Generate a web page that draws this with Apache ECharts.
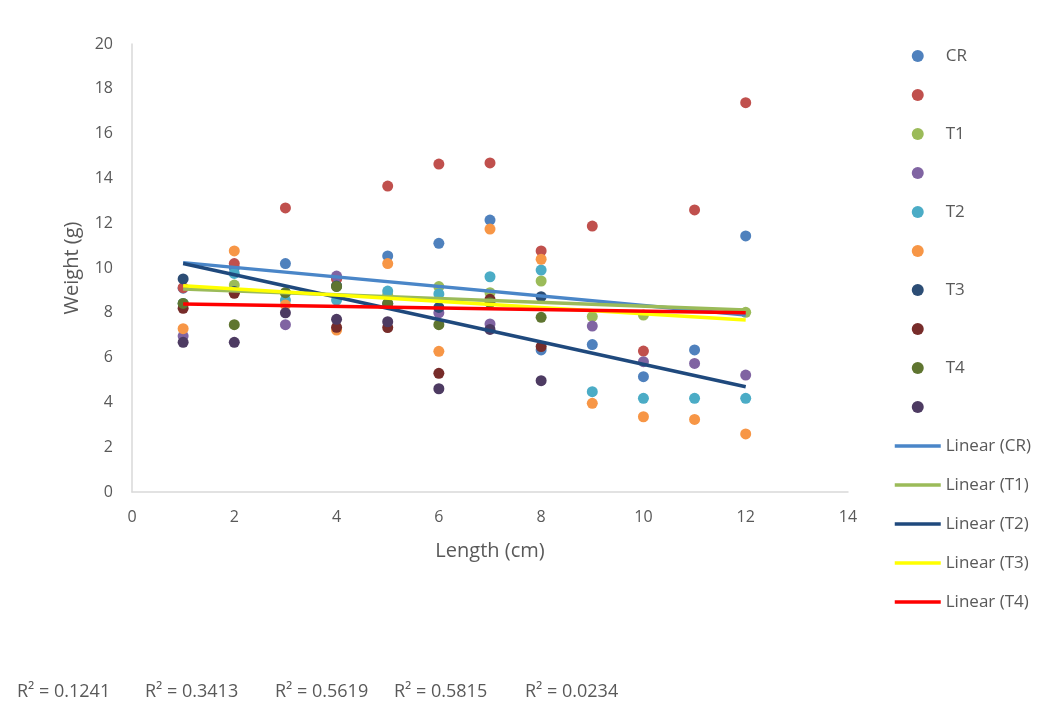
<!DOCTYPE html>
<html>
<head>
<meta charset="utf-8">
<script src="https://cdn.jsdelivr.net/npm/echarts@6/dist/echarts.min.js"></script>
<style>
html,body{margin:0;padding:0;background:#fff;}
#c{width:1044px;height:707px;}
</style>
</head>
<body>
<div id="c"></div>
<script>
const lengths = [1, 2, 3, 4, 5, 6, 7, 8, 9, 10, 11, 12];
const seriesNames = ['CR', 'CR b', 'T1', 'T1 b', 'T2', 'T2 b', 'T3', 'T3 b', 'T4', 'T4 b'];
const seriesLabels = ['CR', '', 'T1', '', 'T2', '', 'T3', '', 'T4', ''];
const crA = [9.1, 10.0, 10.2, 9.55, 10.54, 11.1, 12.14, 6.34, 6.58, 5.15, 6.34, 11.43];
const crB = [9.12, 10.2, 12.68, 9.5, 13.66, 14.64, 14.69, 10.76, 11.87, 6.29, 12.59, 17.38];
const t1A = [8.42, 9.24, 8.9, 9.2, 8.8, 9.17, 8.9, 9.42, 7.83, 7.9, null, 8.02];
const t1B = [6.96, null, 7.47, 9.64, null, 8.0, 7.5, null, 7.41, 5.82, 5.74, 5.22];
const t2A = [8.42, 9.76, 8.57, 8.57, 8.97, 8.84, 9.61, 9.91, 4.48, 4.18, 4.18, 4.18];
const t2B = [7.29, 10.76, 8.35, 7.23, 10.2, 6.28, 11.74, 10.39, 3.96, 3.36, 3.24, 2.59];
const t3A = [9.51, 8.95, null, 9.2, 8.4, 8.24, null, 8.72, null, null, null, null];
const t3B = [8.2, 8.87, null, 7.35, 7.34, 5.3, 8.6, 6.49, null, null, null, null];
const t4A = [8.42, 7.47, 8.9, 9.17, 8.42, 7.47, 8.45, 7.8, null, null, null, null];
const t4B = [6.68, 6.68, 8.0, 7.71, 7.6, 4.61, 7.26, 4.97, null, null, null, null];
const seriesValues = [crA, crB, t1A, t1B, t2A, t2B, t3A, t3B, t4A, t4B];
const dotColors = ['#4F81BD', '#C0504D', '#9BBB59', '#8064A2', '#4BACC6', '#F79646', '#2C4D75', '#772C2A', '#5F7530', '#4D3B62'];

const trendNames = ['Linear (CR)', 'Linear (T1)', 'Linear (T2)', 'Linear (T3)', 'Linear (T4)'];
const trendX = [1, 12];
const trendStart = [10.24, 9.06, 10.2, 9.21, 8.39];
const trendEnd = [7.9, 8.12, 4.70, 7.68, 8.0];
const trendColors = ['#4A86C8', '#9BBB59', '#1F497D', '#FFFF00', '#FF0000'];
const r2Labels = ['R² = 0.1241', 'R² = 0.3413', 'R² = 0.5619', 'R² = 0.5815', 'R² = 0.0234'];

const xTicks = [0, 2, 4, 6, 8, 10, 12, 14];
const yTicks = [0, 2, 4, 6, 8, 10, 12, 14, 16, 18, 20];

const FONT = '"Open Sans", sans-serif';
const labelMap = {};
seriesNames.forEach((n, i) => labelMap[n] = seriesLabels[i]);
trendNames.forEach(n => labelMap[n] = n);

const series = [];
seriesNames.forEach((name, i) => {
  const data = [];
  seriesValues[i].forEach((v, j) => { if (v !== null) data.push([lengths[j], v]); });
  series.push({
    name: name, type: 'scatter', data: data, symbol: 'circle', symbolSize: 11,
    itemStyle: { color: dotColors[i], opacity: 1 }, z: 2, emphasis: { disabled: true }
  });
});
trendNames.forEach((name, i) => {
  series.push({
    name: name, type: 'line', symbol: 'none', showSymbol: false,
    data: [[trendX[0], trendStart[i]], [trendX[1], trendEnd[i]]],
    lineStyle: { color: trendColors[i], width: 3.5 }, itemStyle: { color: trendColors[i] },
    z: 3, emphasis: { disabled: true }
  });
});

const r2Left = [17, 145, 275, 394, 525];
const graphics = r2Labels.map((t, i) => ({
  type: 'text', left: r2Left[i], top: 683,
  style: { text: t, fontSize: 18, fontFamily: FONT, fill: '#595959' }
}));

const legendData = seriesNames.map(n => ({ name: n }))
  .concat(trendNames.map(n => ({ name: n, itemStyle: { opacity: 0 } })));

const chart = echarts.init(document.getElementById('c'), null, { renderer: 'canvas' });
chart.setOption({
  animation: false,
  backgroundColor: '#fff',
  grid: { left: 132, top: 44, width: 716, height: 448, containLabel: false },
  xAxis: {
    type: 'value', min: 0, max: 14, interval: 2,
    name: 'Length (cm)', nameLocation: 'middle', nameGap: 49,
    nameTextStyle: { fontSize: 20, fontFamily: FONT, color: '#595959' },
    axisLine: { show: true, lineStyle: { color: '#D9D9D9', width: 1.5 } },
    axisTick: { show: false }, splitLine: { show: false },
    axisLabel: { fontSize: 16, fontFamily: FONT, color: '#595959', margin: 17,
      formatter: v => xTicks.includes(v) ? String(v) : '' }
  },
  yAxis: {
    type: 'value', min: 0, max: 20, interval: 2,
    name: 'Weight (g)', nameLocation: 'middle', nameGap: 50,
    nameTextStyle: { fontSize: 20, fontFamily: FONT, color: '#595959' },
    axisLine: { show: true, lineStyle: { color: '#D9D9D9', width: 1.5 } },
    axisTick: { show: false }, splitLine: { show: false },
    axisLabel: { fontSize: 16, fontFamily: FONT, color: '#595959', margin: 19,
      formatter: v => yTicks.includes(v) ? String(v) : '' }
  },
  legend: {
    orient: 'vertical', left: 893, top: 47, padding: 0,
    itemWidth: 46, itemHeight: 12, itemGap: 21, selectedMode: false,
    data: legendData,
    lineStyle: { width: 3.5 },
    formatter: n => labelMap[n] === '' ? ' ' : labelMap[n],
    textStyle: { fontSize: 17, fontFamily: FONT, color: '#595959', lineHeight: 18, padding: [0, 0, 0, 0] }
  },
  graphic: graphics,
  series: series
});
</script>
</body>
</html>
